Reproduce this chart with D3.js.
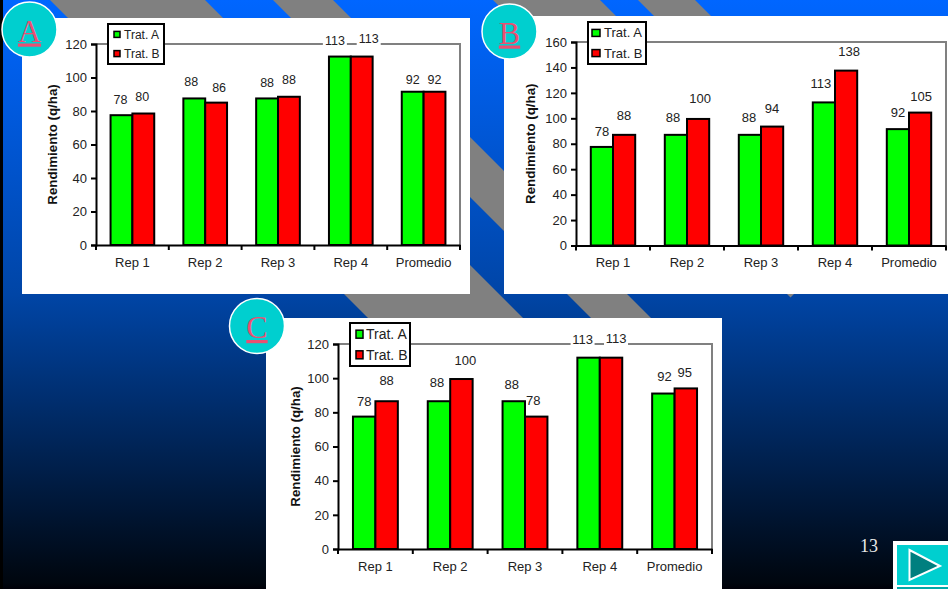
<!DOCTYPE html>
<html>
<head>
<meta charset="utf-8">
<script src="https://cdn.jsdelivr.net/npm/d3@7"></script>
<style>
  body { margin: 0; background: black; }
  text { font-family: "Liberation Sans", Arial, sans-serif; fill: #222; }
</style>
</head>
<body>
<div id="chart"></div>
<script>
const categories = ["Rep 1", "Rep 2", "Rep 3", "Rep 4", "Promedio"];
const series = ["Trat. A", "Trat. B"];
const seriesColors = ["#00ff00", "#ff0000"];

// bar heights
const valuesA1 = [77.5, 87.5, 87.5, 112.5, 91.5];
const valuesA2 = [78.5, 85, 88.5, 112.5, 91.5];
const valuesB1 = [77.5, 87, 87, 112.5, 91.5];
const valuesB2 = [87, 99.5, 93.5, 137.5, 104.5];
const valuesC1 = [77.5, 86.5, 86.5, 112, 91];
const valuesC2 = [86.5, 99.5, 77.5, 112, 94];

// numbers printed above the bars
const labelsA1 = [78, 88, 88, 113, 92];
const labelsA2 = [80, 86, 88, 113, 92];
const labelsB1 = [78, 88, 88, 113, 92];
const labelsB2 = [88, 100, 94, 138, 105];
const labelsC1 = [78, 88, 88, 113, 92];
const labelsC2 = [88, 100, 78, 113, 95];

const ticksAC = [0, 20, 40, 60, 80, 100, 120];
const ticksB = [0, 20, 40, 60, 80, 100, 120, 140, 160];

const wSvg = 948;
const hSvg = 589;

const panels = [
    {
        letter: "A", a: valuesA1, b: valuesA2, labelsA: labelsA1, labelsB: labelsA2, ticks: ticksAC, yMax: 120,
        box: [22, 18, 470, 294], plot: [96, 44, 460, 245], circle: [29.5, 29.5],
        legend: [108, 24, 56, 40], legendFont: 12, legendText: 16, swatch: [6, 6, 6],
        labelFont: 12.5, yLabelX: 52, catY: 263,
        // label offsets, one [dx, dy] for each bar
        nudgeA: [[-1, 0], [-3, -1], [0, 0], [-5, -1], [0, 3]],
        nudgeB: [[-1, -2], [3, 0], [0, -2], [7, -3], [0, 3]]
    },
    {
        letter: "B", a: valuesB1, b: valuesB2, labelsA: labelsB1, labelsB: labelsB2, ticks: ticksB, yMax: 160,
        box: [504, 16, 948, 294], plot: [576, 42, 946, 245.5], circle: [509.5, 31.5],
        legend: [588, 22, 58, 42], legendFont: 13, legendText: 16, swatch: [4, 8, 7],
        labelFont: 13, yLabelX: 530, catY: 263,
        nudgeA: [[0, 0], [-3, -2], [-1, -2], [-3, -3], [0, -1]],
        nudgeB: [[0, -4], [2, -5], [0, -3], [3, -4], [1, -1]]
    },
    {
        letter: "C", a: valuesC1, b: valuesC2, labelsA: labelsC1, labelsB: labelsC2, ticks: ticksAC, yMax: 120,
        box: [266, 318, 722, 589], plot: [338, 344, 712, 549], circle: [257, 326],
        legend: [350, 323, 60, 43], legendFont: 14, legendText: 16, swatch: [6, 7, 8],
        labelFont: 13, yLabelX: 295, catY: 567,
        nudgeA: [[0, 0], [-2, -3.5], [-2, -1], [-6, -2.5], [1, -1.5]],
        nudgeB: [[0, -5], [4, -3.5], [-3, -1], [5, -3.5], [-1, -0.5]]
    }
];

// background stripes, as the x - y range of each band
const stripes = [[50, 205], [273, 333], [493, 600], [638, 695]];
const stripeEnd = 1088;

let svg = d3.select("#chart")
    .append("svg")
    .attr("width", wSvg)
    .attr("height", hSvg)
    .style("display", "block");

let grad = svg.append("defs").append("linearGradient")
    .attr("id", "bg")
    .attr("x1", 0).attr("y1", 0).attr("x2", 0).attr("y2", 1);
grad.append("stop").attr("offset", "0").attr("stop-color", "#0066ff");
grad.append("stop").attr("offset", "0.5").attr("stop-color", "#0045a6");
grad.append("stop").attr("offset", "0.99").attr("stop-color", "#00060e");
grad.append("stop").attr("offset", "1").attr("stop-color", "#000008");

svg.append("rect").attr("width", wSvg).attr("height", hSvg).attr("fill", "url(#bg)");

svg.selectAll(".stripe")
    .data(stripes)
    .enter()
    .append("polygon")
    .attr("class", "stripe")
    .attr("fill", "#808080")
    .attr("points", d => {
        let p = [[d[0], 0], [d[1], 0], [(stripeEnd + d[1]) / 2, (stripeEnd - d[1]) / 2], [(stripeEnd + d[0]) / 2, (stripeEnd - d[0]) / 2]];
        return p.map(q => q.join(",")).join(" ");
    });

svg.append("rect").attr("width", 3).attr("height", hSvg).attr("fill", "black");

function drawPanel (panel) {
    let [bx0, by0, bx1, by1] = panel.box;
    let [px0, py0, px1, py1] = panel.plot;

    svg.append("rect")
        .attr("x", bx0).attr("y", by0)
        .attr("width", bx1 - bx0).attr("height", by1 - by0)
        .attr("fill", "white");

    let xScale = d3.scaleBand(categories, [px0, px1]).paddingInner(0.4).paddingOuter(0.2);
    let groupScale = d3.scaleBand([0, 1], [0, xScale.bandwidth()]);
    let yScale = d3.scaleLinear([0, panel.yMax], [py1, py0]);

    // gray frame on the top and right of the plot
    svg.append("path")
        .attr("d", `M${px0},${py0}H${px1}V${py1}`)
        .attr("fill", "none")
        .attr("stroke", "#808080")
        .attr("stroke-width", 2);

    let rows = [panel.a, panel.b];
    let printed = [panel.labelsA, panel.labelsB];
    let nudges = [panel.nudgeA, panel.nudgeB];

    rows.forEach((values, s) => {
        svg.append("g")
            .selectAll("rect")
            .data(values)
            .enter()
            .append("rect")
            .attr("x", (d, i) => xScale(categories[i]) + groupScale(s))
            .attr("y", d => yScale(d))
            .attr("width", groupScale.bandwidth())
            .attr("height", d => py1 - yScale(d))
            .attr("fill", seriesColors[s])
            .attr("stroke", "black")
            .attr("stroke-width", 2);
    });

    rows.forEach((values, s) => {
        let labels = svg.append("g")
            .selectAll("g")
            .data(values)
            .enter()
            .append("g")
            .attr("transform", (d, i) => {
                let x = xScale(categories[i]) + groupScale(s) + groupScale.bandwidth() / 2 + nudges[s][i][0];
                return `translate(${x}, ${yScale(d) - 11 + nudges[s][i][1]})`;
            });
        // only labels sitting on the frame line need the white behind them
        labels.filter(d => Math.abs(yScale(d) - 11 - py0) < 12)
            .append("rect")
            .attr("x", -12).attr("y", -12)
            .attr("width", 24).attr("height", 15)
            .attr("fill", "white");
        labels.append("text")
            .attr("text-anchor", "middle")
            .attr("font-size", panel.labelFont)
            .text((d, i) => printed[s][i]);
    });

    let yAxis = d3.axisLeft(yScale).tickValues(panel.ticks).tickSize(5).tickPadding(4);
    let yG = svg.append("g")
        .attr("transform", `translate(${px0}, 0)`)
        .call(yAxis);
    yG.selectAll("text").attr("font-size", 13);

    let xAxis = d3.axisBottom(xScale).tickSize(0).tickPadding(0);
    let xG = svg.append("g")
        .attr("transform", `translate(0, ${py1})`)
        .call(xAxis);
    xG.selectAll("text")
        .attr("font-size", 13)
        .attr("y", panel.catY - py1 - 5)
        .attr("dy", "0.71em");

    let edges = categories.map(c => xScale(c) - xScale.step() * 0.2).concat(px1);
    xG.selectAll(".edge")
        .data(edges)
        .enter()
        .append("line")
        .attr("class", "edge")
        .attr("x1", d => d).attr("x2", d => d)
        .attr("y1", 0).attr("y2", 5)
        .attr("stroke", "black")
        .attr("stroke-width", 2);

    svg.selectAll(".domain").attr("stroke", "black").attr("stroke-width", 2);
    svg.selectAll(".tick line").attr("stroke", "black").attr("stroke-width", 2);

    svg.append("text")
        .attr("transform", `translate(${panel.yLabelX}, ${(py0 + py1) / 2}) rotate(-90)`)
        .attr("text-anchor", "middle")
        .attr("dy", "0.35em")
        .attr("font-size", 13.3)
        .attr("font-weight", "bold")
        .style("fill", "#111")
        .text("Rendimiento (q/ha)");

    // legend
    let [lx, ly, lw, lh] = panel.legend;
    let [sx, sw, sh] = panel.swatch;
    let legend = svg.append("g").attr("transform", `translate(${lx}, ${ly})`);
    legend.append("rect")
        .attr("width", lw).attr("height", lh)
        .attr("fill", "white")
        .attr("stroke", "black")
        .attr("stroke-width", 2);
    series.forEach((name, i) => {
        let rowY = lh * (i === 0 ? 0.26 : 0.74);
        legend.append("rect")
            .attr("x", sx).attr("y", rowY - sh / 2)
            .attr("width", sw).attr("height", sh)
            .attr("fill", seriesColors[i])
            .attr("stroke", "black")
            .attr("stroke-width", 1.5);
        legend.append("text")
            .attr("x", panel.legendText)
            .attr("y", rowY)
            .attr("dy", "0.35em")
            .attr("font-size", panel.legendFont)
            .text(name);
    });

    // round badge with the letter
    let [cx, cy] = panel.circle;
    svg.append("circle")
        .attr("cx", cx).attr("cy", cy).attr("r", 27.5)
        .attr("fill", "#00cfcf")
        .attr("stroke", "white")
        .attr("stroke-width", 1.5);
    svg.append("text")
        .attr("x", cx).attr("y", cy + 12)
        .attr("text-anchor", "middle")
        .attr("font-size", 32)
        .style("font-family", "'Liberation Serif', serif")
        .style("fill", "#ea4f72")
        .style("text-decoration", "underline")
        .text(panel.letter);
}

panels.forEach(drawPanel);

svg.append("text")
    .attr("x", 860).attr("y", 552)
    .attr("font-size", 18)
    .style("font-family", "'Liberation Serif', serif")
    .style("fill", "#e8e8e8")
    .text("13");

// next slide button
svg.append("rect").attr("x", 893).attr("y", 541).attr("width", 55).attr("height", 48).attr("fill", "white");
svg.append("rect").attr("x", 897).attr("y", 545).attr("width", 51).attr("height", 40).attr("fill", "#00cfcf");
svg.append("rect").attr("x", 897).attr("y", 587).attr("width", 51).attr("height", 2).attr("fill", "#00a8a8");
svg.append("polygon")
    .attr("points", "909.5,550 940,566 909.5,580")
    .attr("fill", "#007f7f")
    .attr("stroke", "white")
    .attr("stroke-width", 2);
</script>
</body>
</html>
